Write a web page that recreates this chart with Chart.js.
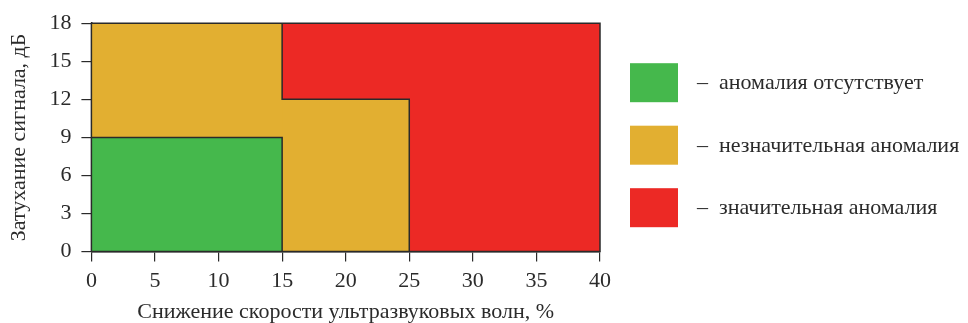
<!DOCTYPE html>
<html>
<head>
<meta charset="utf-8">
<script src="https://cdn.jsdelivr.net/npm/chart.js@4"></script>
<style>
html,body{margin:0;padding:0;background:#fff;}
#wrap{width:968px;height:323px;position:relative;}
</style>
</head>
<body>
<div id="wrap"><canvas id="c"></canvas></div>
<script>
// ---- Data ----
const legendLabels = ['аномалия отсутствует', 'незначительная аномалия', 'значительная аномалия'];
const legendColors = ['#45B84C', '#E2AF31', '#EC2925'];

// zones painted in layers (back to front); class index refers to legendLabels
const zoneClass = [2, 1, 1, 0];
const zoneX0 = [0, 0, 0, 0];
const zoneX1 = [40, 25, 15, 15];
const zoneY0 = [0, 0, 0, 0];
const zoneY1 = [18, 12, 18, 9];

// boundary polylines between zones
const greenBorderX = [0, 15, 15];
const greenBorderY = [9, 9, 0];
const redBorderX = [15, 15, 25, 25];
const redBorderY = [18, 12, 12, 0];
const frameX = [0, 0, 40, 40, 0];
const frameY = [0, 18, 18, 0, 0];

const xTickValues = [0, 5, 10, 15, 20, 25, 30, 35, 40];
const yTickValues = [0, 3, 6, 9, 12, 15, 18];

const xTitle = 'Снижение скорости ультразвуковых волн, %';
const yTitle = 'Затухание сигнала, дБ';

// ---- Build datasets ----
const FONT = "'Liberation Serif', 'Times New Roman', serif";
const LINE = '#2a2a2a';
const TEXT = '#2b2b2b';
const toPts = (xs, ys) => xs.map((x, i) => ({x: x, y: ys[i]}));

const datasets = [];
const borders = [[frameX, frameY], [greenBorderX, greenBorderY], [redBorderX, redBorderY]];
borders.forEach(([xs, ys]) => {
  datasets.push({
    data: toPts(xs, ys),
    showLine: true,
    borderColor: LINE,
    borderWidth: 1.5,
    pointRadius: 0,
    fill: false,
    clip: false,
    order: 0
  });
});
zoneClass.forEach((c, i) => {
  datasets.push({
    data: [{x: zoneX0[i], y: zoneY1[i]}, {x: zoneX1[i], y: zoneY1[i]}],
    showLine: true,
    borderColor: 'rgba(0,0,0,0)',
    borderWidth: 0,
    backgroundColor: legendColors[c],
    pointRadius: 0,
    fill: {value: zoneY0[i]},
    order: 10 + (zoneClass.length - i)
  });
});

// side legend drawn next to the plot area
const sideLegend = {
  id: 'sideLegend',
  afterDraw(chart) {
    const ctx = chart.ctx;
    const area = chart.chartArea;
    const boxW = 48, boxH = 39, gap = 62.5;
    const bx = area.right + 30;
    ctx.save();
    ctx.font = '22px ' + FONT;
    ctx.textBaseline = 'middle';
    ctx.textAlign = 'left';
    legendLabels.forEach((t, i) => {
      const by = area.top + 40 + i * gap;
      ctx.fillStyle = legendColors[i];
      ctx.fillRect(bx, by, boxW, boxH);
      ctx.fillStyle = TEXT;
      ctx.fillText('\u2013  ' + t, bx + 67, by + boxH / 2 + 1);
    });
    ctx.restore();
  }
};

new Chart(document.getElementById('c'), {
  type: 'scatter',
  data: {datasets: datasets},
  plugins: [sideLegend],
  options: {
    responsive: true,
    maintainAspectRatio: false,
    animation: false,
    events: [],
    layout: {padding: {left: 6, top: 13, right: 368, bottom: 0}},
    plugins: {
      tooltip: {enabled: false},
      legend: {display: false}
    },
    scales: {
      x: {
        type: 'linear',
        min: 0, max: 40,
        afterBuildTicks: s => { s.ticks = xTickValues.map(v => ({value: v})); },
        grid: {drawOnChartArea: false, drawTicks: true, tickLength: 10, color: LINE, lineWidth: 1.2},
        border: {display: true, color: LINE, width: 1.5},
        ticks: {font: {family: FONT, size: 22}, color: TEXT, padding: 6, maxRotation: 0},
        title: {display: true, text: xTitle, font: {family: FONT, size: 22, lineHeight: 1.0}, color: TEXT, padding: {top: 1, bottom: 0}}
      },
      y: {
        type: 'linear',
        min: 0, max: 18,
        afterBuildTicks: s => { s.ticks = yTickValues.map(v => ({value: v})); },
        grid: {drawOnChartArea: false, drawTicks: true, tickLength: 10, color: LINE, lineWidth: 1.2},
        border: {display: true, color: LINE, width: 1.5},
        ticks: {font: {family: FONT, size: 22}, color: TEXT, padding: 10},
        title: {display: true, text: yTitle, font: {family: FONT, size: 22}, color: TEXT, padding: {top: 0, bottom: 7}}
      }
    }
  }
});
</script>
</body>
</html>
